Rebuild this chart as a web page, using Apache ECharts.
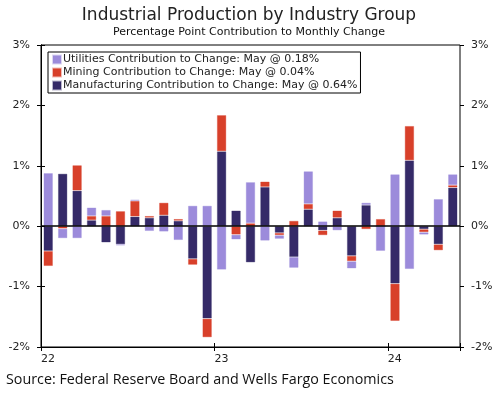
<!DOCTYPE html>
<html><head><meta charset="utf-8">
<script src="https://cdn.jsdelivr.net/npm/echarts@6/dist/echarts.min.js"></script>
<style>html,body{margin:0;padding:0;background:#fff}#c{width:498px;height:395px}</style>
</head><body><div id="c"></div>
<script>
var categories = ['Jan 22','Feb 22','Mar 22','Apr 22','May 22','Jun 22','Jul 22','Aug 22','Sep 22','Oct 22','Nov 22','Dec 22',
  'Jan 23','Feb 23','Mar 23','Apr 23','May 23','Jun 23','Jul 23','Aug 23','Sep 23','Oct 23','Nov 23','Dec 23',
  'Jan 24','Feb 24','Mar 24','Apr 24','May 24'];
var manufacturing = [-0.41, 0.87, 0.59, 0.10, -0.27, -0.30, 0.16, 0.14, 0.18, 0.09, -0.54, -1.53,
  1.24, 0.26, -0.60, 0.65, -0.11, -0.51, 0.28, -0.07, 0.14, -0.49, 0.35, 0.00,
  -0.95, 1.09, -0.05, -0.30, 0.64];
var mining = [-0.25, -0.04, 0.42, 0.07, 0.17, 0.25, 0.26, 0.03, 0.21, 0.03, -0.10, -0.31,
  0.60, -0.14, 0.05, 0.09, -0.04, 0.09, 0.09, -0.08, 0.12, -0.09, -0.05, 0.12,
  -0.62, 0.57, -0.05, -0.10, 0.04];
var utilities = [0.88, -0.16, -0.20, 0.14, 0.10, -0.02, 0.02, -0.08, -0.09, -0.23, 0.34, 0.34,
  -0.72, -0.08, 0.68, -0.24, -0.06, -0.18, 0.54, 0.08, -0.07, -0.12, 0.04, -0.41,
  0.86, -0.71, -0.04, 0.45, 0.18];
var yearTickIndex = [0, 12, 24];
var yearTickLabels = ['22', '23', '24'];
var seriesNames = {
  util: 'Utilities Contribution to Change: May @ 0.18%',
  mining: 'Mining Contribution to Change: May @ 0.04%',
  manuf: 'Manufacturing Contribution to Change: May @ 0.64%'
};

var chart = echarts.init(document.getElementById('c'));
var FONT = 'DejaVu Sans';
var yLabel = { show: true, formatter: function(v){ return v + '%'; }, color: '#222', fontSize: 11, fontFamily: FONT, margin: 11 };
function yAx(pos, inside, labels) {
  return {
    type: 'value', position: pos, min: -2, max: 3, interval: 1,
    axisLine: { show: labels, lineStyle: { color: '#000', width: 1 } },
    axisTick: { show: true, inside: inside, length: 4, lineStyle: { color: '#000' } },
    axisLabel: labels ? yLabel : { show: false },
    splitLine: { show: false }
  };
}
function xAx(inside, labels) {
  return {
    type: 'value', position: 'bottom', min: 0, max: categories.length, interval: 12,
    axisLine: { show: labels, onZero: false, lineStyle: { color: '#000' } },
    axisTick: { show: true, inside: inside, length: 4, lineStyle: { color: '#000' } },
    axisLabel: labels ? {
      show: true, align: 'left', color: '#222', fontSize: 11, fontFamily: FONT, margin: 7,
      formatter: function(v){ var k = yearTickIndex.indexOf(v); return k >= 0 ? yearTickLabels[k] : ''; }
    } : { show: false },
    splitLine: { show: false }
  };
}
function bar(name, data, color, border) {
  return {
    name: name, type: 'bar', stack: 'total', data: data, xAxisIndex: 0, yAxisIndex: 0,
    barWidth: 9.5, itemStyle: { color: color, borderColor: border, borderWidth: 1 }
  };
}
var manufSeries = bar(seriesNames.manuf, manufacturing, '#352a68', 'rgba(53,42,104,0.35)');
var miningSeries = bar(seriesNames.mining, mining, '#d8402a', 'rgba(216,64,42,0.35)');
var utilSeries = bar(seriesNames.util, utilities, '#9c8bdb', 'rgba(156,139,219,0.35)');
utilSeries.markLine = {
  silent: true, symbol: 'none', z: 10,
  lineStyle: { color: '#000', width: 1.5, type: 'solid' },
  label: { show: false },
  data: [{ yAxis: 0 }]
};
chart.setOption({
  animation: false,
  title: {
    text: 'Industrial Production by Industry Group',
    subtext: 'Percentage Point Contribution to Monthly Change',
    left: 'center', top: 2, itemGap: 3,
    textStyle: { fontSize: 17, fontWeight: 'normal', color: '#222', fontFamily: FONT },
    subtextStyle: { fontSize: 11, color: '#111', fontFamily: FONT }
  },
  legend: {
    orient: 'vertical', left: 48, top: 52,
    data: [seriesNames.util, seriesNames.mining, seriesNames.manuf],
    icon: 'rect', itemWidth: 8, itemHeight: 8, itemGap: 2,
    borderColor: '#000', borderWidth: 1, borderRadius: 0, padding: [2, 3, 2, 4],
    textStyle: { fontSize: 11, color: '#222', fontFamily: FONT, padding: [0, 0, 0, -3] }
  },
  grid: { left: 41, right: 38, top: 45, bottom: 48, show: true, borderColor: '#000', borderWidth: 1, backgroundColor: 'transparent' },
  xAxis: [
    { type: 'category', data: categories, show: false, boundaryGap: true },
    xAx(false, true),
    xAx(true, false)
  ],
  yAxis: [
    yAx('left', true, true),
    yAx('right', true, true),
    yAx('left', false, false),
    yAx('right', false, false)
  ],
  series: [manufSeries, miningSeries, utilSeries],
  graphic: [{
    type: 'text', left: 6, top: 373,
    style: { text: 'Source: Federal Reserve Board and Wells Fargo Economics', fontSize: 14.3, fontFamily: 'Open Sans', fill: '#111' }
  }]
});
</script>
</body></html>
